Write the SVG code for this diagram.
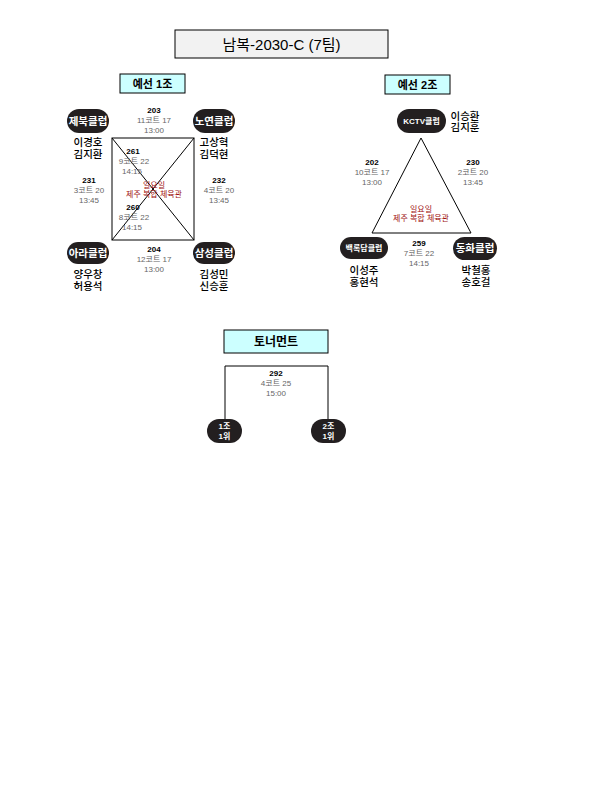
<svg xmlns="http://www.w3.org/2000/svg" width="612" height="792" viewBox="0 0 612 792">
<style>
text{font-family:"Liberation Sans","Noto Sans CJK KR",sans-serif;text-anchor:middle}
.pill{fill:#231f20}
.ct{fill:#fff;font-size:10.5px;font-weight:bold}
.cs{fill:#fff;font-size:8px;font-weight:bold}
.nm{fill:#000;font-size:10.5px;font-weight:500}
.mn{fill:#000;font-size:8px;font-weight:bold}
.mt{fill:#666;font-size:8px}
.vn{fill:#a01010;font-size:8px}
.hd{fill:#ccffff;stroke:#000;stroke-width:1}
.hdt{font-size:11px;font-weight:bold;fill:#000}
.ln{fill:none;stroke:#000;stroke-width:1}
</style>
<rect width="612" height="792" fill="#fff"/>
<g id="title">
<rect x="175" y="30" width="213" height="28" fill="#f2f2f2" stroke="#000" stroke-width="1"/>
<text x="281.5" y="49.5" style="font-size:15px">남복-2030-C (7팀)</text>
</g>
<g id="connectors">
<rect class="ln" x="112" y="138" width="82" height="102"/>
<line class="ln" x1="112" y1="138" x2="194" y2="240"/>
<line class="ln" x1="194" y1="138" x2="112" y2="240"/>
<polygon class="ln" points="421,138 372,233 471,233"/>
<polyline class="ln" points="225,420 225,366 328,366 328,420"/>
</g>
<g id="group1-header">
<rect class="hd" x="120" y="74" width="65" height="19"/>
<text class="hdt" x="152.5" y="87.5">예선 1조</text>
</g>
<g id="group2-header">
<rect class="hd" x="385" y="75" width="65" height="19"/>
<text class="hdt" x="417.5" y="88.5">예선 2조</text>
</g>
<g id="tournament-header">
<rect class="hd" x="224" y="330" width="104" height="23"/>
<text class="hdt" x="276" y="345.5" style="font-size:12px">토너먼트</text>
</g>
<g id="jebuk">
<rect class="pill" x="67" y="109" width="42" height="24" rx="12"/>
<text class="ct" x="88" y="124.5">제북클럽</text>
<text class="nm" x="88" y="146">이경호</text>
<text class="nm" x="88" y="158">김지환</text>
</g>
<g id="noyeon">
<rect class="pill" x="193" y="109" width="42" height="24" rx="12"/>
<text class="ct" x="214" y="124.5">노연클럽</text>
<text class="nm" x="214" y="146">고상혁</text>
<text class="nm" x="214" y="158">김덕현</text>
</g>
<g id="ara">
<rect class="pill" x="67" y="242" width="42" height="22" rx="11"/>
<text class="ct" x="88" y="256.5">아라클럽</text>
<text class="nm" x="88" y="278">양우창</text>
<text class="nm" x="88" y="290">허용석</text>
</g>
<g id="samsung">
<rect class="pill" x="193" y="242" width="42" height="22" rx="11"/>
<text class="ct" x="214" y="256.5">삼성클럽</text>
<text class="nm" x="214" y="278">김성민</text>
<text class="nm" x="214" y="290">신승훈</text>
</g>
<g id="m203">
<text class="mn" x="154" y="113">203</text>
<text class="mt" x="154" y="123">11코트 17</text>
<text class="mt" x="154" y="133">13:00</text>
</g>
<g id="m231">
<text class="mn" x="89" y="183">231</text>
<text class="mt" x="89" y="193">3코트 20</text>
<text class="mt" x="89" y="203">13:45</text>
</g>
<g id="m232">
<text class="mn" x="219" y="183">232</text>
<text class="mt" x="219" y="193">4코트 20</text>
<text class="mt" x="219" y="203">13:45</text>
</g>
<g id="m204">
<text class="mn" x="154" y="252">204</text>
<text class="mt" x="154" y="262">12코트 17</text>
<text class="mt" x="154" y="272">13:00</text>
</g>
<g id="m261">
<text class="mn" x="133" y="154">261</text>
<text class="mt" x="134" y="164">9코트 22</text>
<text class="mt" x="132" y="174">14:15</text>
</g>
<g id="m260">
<text class="mn" x="133" y="210">260</text>
<text class="mt" x="134" y="220">8코트 22</text>
<text class="mt" x="132" y="230">14:15</text>
</g>
<g id="venue1">
<text class="vn" x="154" y="188">일요일</text>
<text class="vn" x="154" y="197">제주 복합 체육관</text>
</g>
<g id="kctv">
<rect class="pill" x="397" y="109" width="49" height="24" rx="12"/>
<text class="cs" x="421.5" y="124">KCTV클럽</text>
<text class="nm" x="465" y="120">이승환</text>
<text class="nm" x="465" y="131">김지훈</text>
</g>
<g id="baekrokdam">
<rect class="pill" x="340" y="237" width="48" height="22" rx="11"/>
<text class="cs" x="364" y="251">백록담클럽</text>
<text class="nm" x="364" y="274">이성주</text>
<text class="nm" x="364" y="286">홍현석</text>
</g>
<g id="donghwa">
<rect class="pill" x="453" y="237" width="44" height="23" rx="11.5"/>
<text class="ct" x="475" y="252">동화클럽</text>
<text class="nm" x="476" y="274">박철홍</text>
<text class="nm" x="476" y="286">송호걸</text>
</g>
<g id="m202">
<text class="mn" x="372" y="165">202</text>
<text class="mt" x="372" y="175">10코트 17</text>
<text class="mt" x="372" y="185">13:00</text>
</g>
<g id="m230">
<text class="mn" x="473" y="165">230</text>
<text class="mt" x="473" y="175">2코트 20</text>
<text class="mt" x="473" y="185">13:45</text>
</g>
<g id="m259">
<text class="mn" x="419" y="246">259</text>
<text class="mt" x="419" y="256">7코트 22</text>
<text class="mt" x="419" y="266">14:15</text>
</g>
<g id="venue2">
<text class="vn" x="421" y="212">일요일</text>
<text class="vn" x="421" y="221">제주 복합 체육관</text>
</g>
<g id="m292">
<text class="mn" x="276" y="376">292</text>
<text class="mt" x="276" y="386">4코트 25</text>
<text class="mt" x="276" y="396">15:00</text>
</g>
<g id="g1first">
<rect class="pill" x="207" y="419" width="35" height="24" rx="12"/>
<text class="cs" x="224.5" y="429">1조</text>
<text class="cs" x="224.5" y="439">1위</text>
</g>
<g id="g2first">
<rect class="pill" x="311" y="419" width="35" height="24" rx="12"/>
<text class="cs" x="328.5" y="429">2조</text>
<text class="cs" x="328.5" y="439">1위</text>
</g>
</svg>
